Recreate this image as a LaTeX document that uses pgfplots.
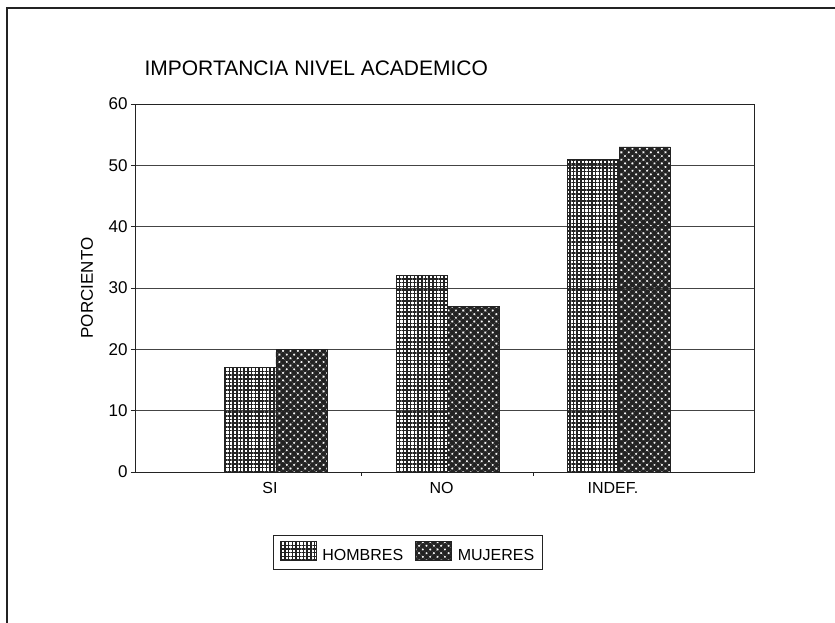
\documentclass[border=0pt]{standalone}
\usepackage{fontspec}
\setmainfont{Liberation Sans}
\usepackage{pgfplots}
\pgfplotsset{compat=1.18}
\usetikzlibrary{patterns.meta}

\definecolor{ink}{RGB}{35,35,35}

\pgfplotsset{
  barlegend/.style={legend image code/.code={%
    \draw[##1] (0pt,-4pt) rectangle (36pt,15pt);}},
}

\begin{document}
\begin{tikzpicture}
\path[use as bounding box] (0pt,0pt) rectangle (835pt,623pt);
% marco exterior de la hoja
\draw[ink, line width=1.6pt] (7pt,0pt) -- (7pt,615pt) -- (835pt,615pt);
\begin{axis}[
  at={(135pt,151pt)}, anchor=south west,
  scale only axis, width=619pt, height=368pt,
  xmin=-0.822, xmax=2.787, ymin=0, ymax=60,
  ytick={0,10,...,60},
  xtick={0.5,1.5}, xticklabels={,},
  extra x ticks={0,1,2}, extra x tick labels={SI,NO,INDEF.},
  extra x tick style={tick style={draw=none}},
  tick pos=left, tick align=outside, major tick length=4pt,
  tick style={ink, line width=0.7pt},
  axis line style={ink, line width=0.8pt},
  ymajorgrids, major grid style={ink!85, line width=0.7pt},
  /pgf/number format/assume math mode=true,
  yticklabel style={font=\fontsize{17}{20}\selectfont},
  xticklabel style={font=\fontsize{16}{19}\selectfont, xshift=-6pt, yshift=-3pt},
  title={IMPORTANCIA NIVEL ACADEMICO},
  title style={at={(axis description cs:0.0097,1.06)}, anchor=base west,
    font=\fontsize{21}{25}\selectfont},
  ylabel={PORCIENTO},
  every axis y label/.style={at={(axis description cs:-0.0775,0.5)},
    rotate=90, anchor=center, font=\fontsize{17}{20}\selectfont},
  legend columns=2,
  legend style={at={(axis description cs:0.441,-0.219)}, anchor=center,
    draw=ink, line width=0.8pt, font=\fontsize{16}{19}\selectfont,
    inner xsep=6pt, inner ysep=5pt,
    /tikz/every odd column/.append style={column sep=4pt},
    /tikz/every even column/.append style={column sep=10pt}},
]
\addplot[ybar, bar width=0.3, bar shift=-0.15, draw=ink, line width=0.6pt,
  pattern={Hatch[angle=0,distance=3.7pt,line width=1.5pt]}, pattern color=ink,
  barlegend]
  coordinates {(0,17) (1,32) (2,51)};
\addlegendentry{HOMBRES}
\addplot[ybar, bar width=0.3, bar shift=0.15, draw=ink, line width=0.6pt,
  pattern={Hatch[angle=45,distance=5.2pt,line width=3.3pt]}, pattern color=ink,
  barlegend]
  coordinates {(0,20) (1,27) (2,53)};
\addlegendentry{MUJERES}
\end{axis}
\end{tikzpicture}
\end{document}
